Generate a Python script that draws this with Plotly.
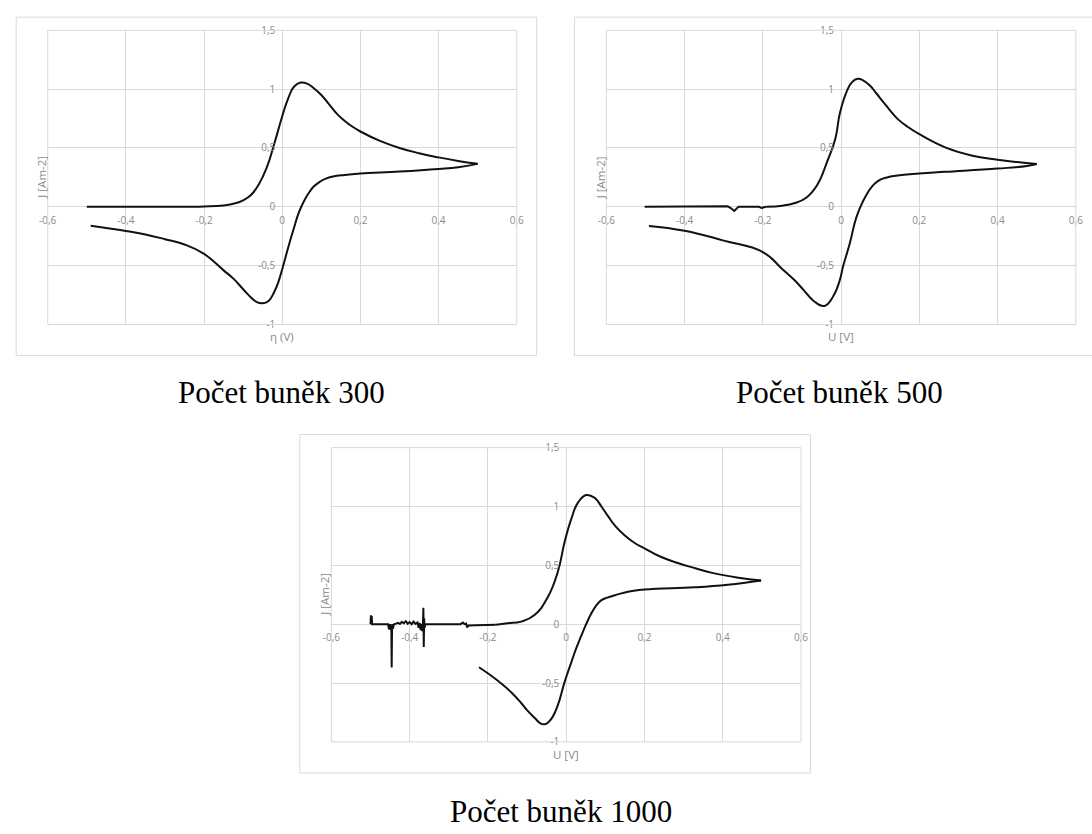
import plotly.graph_objects as go

W, H = 1092, 834

# ---------------- data ----------------
x_tick_vals = [-0.6, -0.4, -0.2, 0, 0.2, 0.4, 0.6]
x_tick_text = ["-0,6", "-0,4", "-0,2", "0", "0,2", "0,4", "0,6"]
y_tick_vals = [-1, -0.5, 0, 0.5, 1, 1.5]
y_tick_text = ["-1", "-0,5", "0", "0,5", "1", "1,5"]

captions = ["Počet buněk 300", "Počet buněk 500", "Počet buněk 1000"]
x_titles = ["η (V)", "U [V]", "U [V]"]
y_title = "J [Am-2]"

# 300 cells
c300_fwd_u = [-0.5, -0.3, -0.2, -0.15, -0.12, -0.1, -0.08, -0.06, -0.04, -0.02, 0.0, 0.015, 0.03,
              0.047, 0.065, 0.08, 0.1, 0.12, 0.14, 0.16, 0.18, 0.2, 0.25, 0.3, 0.35, 0.4, 0.45, 0.5]
c300_fwd_j = [0.0, 0.0, 0.003, 0.012, 0.03, 0.055, 0.1, 0.19, 0.33, 0.54, 0.77, 0.92, 1.02,
              1.056, 1.045, 1.01, 0.95, 0.87, 0.79, 0.73, 0.68, 0.64, 0.56, 0.5, 0.455, 0.42, 0.39,
              0.365]
c300_rev_u = [0.5, 0.45, 0.4, 0.3, 0.2, 0.16, 0.13, 0.11, 0.095, 0.08, 0.07, 0.06, 0.05, 0.04, 0.03,
              0.02, 0.01, 0.0, -0.01, -0.02, -0.035, -0.05, -0.065, -0.08, -0.1, -0.125, -0.15,
              -0.2, -0.25, -0.3, -0.35, -0.4, -0.45, -0.49]
c300_rev_j = [0.365, 0.337, 0.322, 0.3, 0.283, 0.271, 0.257, 0.237, 0.21, 0.17, 0.128, 0.075, 0.01,
              -0.07, -0.18, -0.29, -0.41, -0.53, -0.64, -0.72, -0.8, -0.82, -0.81, -0.77, -0.7,
              -0.61, -0.54, -0.4, -0.32, -0.275, -0.235, -0.205, -0.18, -0.16]

# 500 cells
c500_base_u = [-0.502, -0.3, -0.29, -0.282, -0.273, -0.266, -0.262, -0.21, -0.205, -0.202, -0.198,
               -0.19]
c500_base_j = [0.0, 0.0, 0.004, -0.01, -0.035, -0.012, 0.0, 0.0, -0.005, -0.011, -0.003, 0.0]
c500_fwd_u = [-0.19, -0.15, -0.12, -0.09, -0.061, -0.036, -0.015, -0.003, 0.014, 0.028, 0.042,
              0.055, 0.073, 0.09, 0.107, 0.125, 0.145, 0.17, 0.2, 0.266, 0.333, 0.4, 0.45, 0.5]
c500_fwd_j = [0.0, 0.01, 0.03, 0.075, 0.186, 0.38, 0.575, 0.797, 0.977, 1.06, 1.088,
              1.077, 1.033, 0.965, 0.894, 0.82, 0.745, 0.68, 0.617, 0.505, 0.436, 0.4, 0.38, 0.364]
c500_rev_u = [0.5, 0.475, 0.4, 0.266, 0.2, 0.14, 0.12, 0.107, 0.095, 0.081, 0.068, 0.056, 0.039,
              0.022, 0.005, -0.003, -0.02, -0.043, -0.07, -0.095, -0.12, -0.15, -0.2, -0.3, -0.4,
              -0.491]
c500_rev_j = [0.364, 0.347, 0.325, 0.297, 0.283, 0.264, 0.252, 0.24, 0.22, 0.18, 0.12, 0.047,
              -0.09, -0.314, -0.508, -0.62, -0.76, -0.842, -0.8, -0.71, -0.62, -0.53, -0.384,
              -0.287, -0.203, -0.162]

# 1000 cells
c1000_noise_u = [-0.5, -0.499, -0.498, -0.497, -0.496, -0.495, -0.48, -0.46, -0.455, -0.453, -0.451,
                 -0.449, -0.447, -0.446, -0.445, -0.443, -0.44, -0.435, -0.43, -0.425, -0.42, -0.415,
                 -0.41, -0.405, -0.4, -0.395, -0.39, -0.385, -0.38, -0.377, -0.374, -0.372, -0.37,
                 -0.368, -0.366, -0.365, -0.364, -0.363, -0.362, -0.36, -0.355, -0.34, -0.3, -0.27,
                 -0.264, -0.26, -0.256, -0.253, -0.25, -0.248, -0.23, -0.21, -0.19, -0.18]
c1000_noise_j = [0.0, 0.075, 0.0, 0.07, 0.0, 0.0, 0.0, 0.0, 0.0, -0.045, 0.0,
                 -0.048, 0.0, -0.368, 0.0, -0.04, 0.0, 0.005, 0.012, 0.002, 0.02, 0.008,
                 0.025, 0.004, 0.018, 0.0, 0.022, 0.003, 0.015, -0.03, 0.01, -0.05, 0.0,
                 -0.06, 0.02, 0.14, -0.193, 0.05, -0.03, 0.0, 0.0, 0.0, 0.0, 0.0,
                 0.014, 0.0, 0.005, -0.028, -0.01, -0.012, -0.01, -0.01, -0.01, -0.005]
c1000_fwd_u = [-0.18, -0.15, -0.115, -0.081, -0.047, -0.021, -0.004, 0.013, 0.03, 0.051, 0.072,
               0.09, 0.106, 0.125, 0.149, 0.175, 0.2, 0.24, 0.285, 0.33, 0.37, 0.44, 0.498]
c1000_fwd_j = [-0.005, 0.008, 0.022, 0.078, 0.23, 0.45, 0.7, 0.895, 1.033, 1.097, 1.075,
               1.0, 0.922, 0.835, 0.756, 0.69, 0.645, 0.575, 0.52, 0.475, 0.438, 0.395, 0.371]
c1000_rev_u = [0.498, 0.413, 0.328, 0.2, 0.15, 0.123, 0.105, 0.089, 0.076, 0.064, 0.051, 0.038,
               0.025, 0.013, -0.004, -0.021, -0.035, -0.047, -0.055, -0.065, -0.081, -0.1, -0.115,
               -0.14, -0.166, -0.195, -0.223]
c1000_rev_j = [0.371, 0.335, 0.313, 0.294, 0.27, 0.244, 0.226, 0.202, 0.155, 0.091, 0.0, -0.102,
               -0.21, -0.324, -0.49, -0.684, -0.79, -0.837, -0.85, -0.845, -0.795, -0.73, -0.67,
               -0.58, -0.504, -0.43, -0.366]

# ---------------- layout geometry (pixels) ----------------
plots = [  # plot area: left, right, top, bottom
    (39.3, 515.3, 22.7, 322.3),
    (606.2, 1082.7, 22.7, 322.3),
    (327.2, 803.8, 447.7, 747.3),
]
frames = [
    (7.3, 535.5, 9.3, 354.0),
    (573.9, 1103.0, 9.3, 354.0),
    (295.1, 813.3, 434.3, 779.0),
]
caption_pos = [(276.5, 392), (843, 392), (560, 818)]

GRID = "#d9d9d9"
TXT = "#8a8a8a"
TICKFONT = dict(family="Open Sans", size=10, color=TXT)
TITLEFONT = dict(family="Open Sans", size=11.5, color=TXT)


def px(x):
    return x / W


def py(y):
    return 1 - y / H


fig = go.Figure()

series = [
    [(c300_fwd_u, c300_fwd_j, "spline"), (c300_rev_u, c300_rev_j, "spline")],
    [(c500_base_u, c500_base_j, "linear"), (c500_fwd_u, c500_fwd_j, "spline"),
     (c500_rev_u, c500_rev_j, "spline")],
    [(c1000_noise_u, c1000_noise_j, "linear"), (c1000_fwd_u, c1000_fwd_j, "spline"),
     (c1000_rev_u, c1000_rev_j, "spline")],
]

layout = {}
annotations = []
shapes = []
for i, (pl, fr, ser) in enumerate(zip(plots, frames, series)):
    n = "" if i == 0 else str(i + 1)
    xa, ya = "x" + n, "y" + n
    for u, j, shp in ser:
        fig.add_trace(go.Scatter(x=u, y=j, mode="lines", xaxis=xa, yaxis=ya,
                                 line=dict(color="#111111", width=2, shape=shp, smoothing=1.3),
                                 showlegend=False, hoverinfo="skip"))
    l, r, t, b = pl
    zero_y = b - (b - t) * (0 - (-1)) / 2.5
    zero_x = (l + r) / 2
    layout["xaxis" + n] = dict(
        domain=[px(l), px(r)], range=[-0.6, 0.6], anchor="free", position=py(zero_y),
        tickvals=x_tick_vals, ticktext=x_tick_text, showgrid=True, gridcolor=GRID, gridwidth=1,
        zeroline=True, zerolinecolor=GRID, zerolinewidth=1, showline=False, ticks="",
        tickfont=TICKFONT, ticklabelstandoff=6, fixedrange=True)
    layout["yaxis" + n] = dict(
        domain=[py(b), py(t)], range=[-1, 1.5], anchor="free", position=px(zero_x),
        tickvals=y_tick_vals, ticktext=y_tick_text, showgrid=True, gridcolor=GRID, gridwidth=1,
        zeroline=True, zerolinecolor=GRID, zerolinewidth=1, showline=False, ticks="",
        tickfont=TICKFONT, ticklabelstandoff=7, fixedrange=True)
    # plot-area border
    shapes.append(dict(type="rect", xref="paper", yref="paper", x0=px(l), x1=px(r),
                       y0=py(b), y1=py(t), line=dict(color=GRID, width=1)))
    # chart frame
    shapes.append(dict(type="rect", xref="paper", yref="paper", x0=px(fr[0]), x1=px(fr[1]),
                       y0=py(fr[3]), y1=py(fr[2]), line=dict(color=GRID, width=1)))
    # axis titles
    annotations.append(dict(text=y_title, textangle=-90, x=px(l - 6.5), y=py((t + b) / 2),
                            xref="paper", yref="paper", showarrow=False, font=TITLEFONT,
                            xanchor="center", yanchor="middle"))
    annotations.append(dict(text=x_titles[i], x=px(zero_x), y=py(b + 12.5),
                            xref="paper", yref="paper", showarrow=False, font=TITLEFONT,
                            xanchor="center", yanchor="middle"))
    # caption
    cx, cy = caption_pos[i]
    annotations.append(dict(text=captions[i], x=px(cx), y=py(cy), xref="paper", yref="paper",
                            showarrow=False, xanchor="center", yanchor="middle",
                            font=dict(family="Liberation Serif", size=31, color="#000000")))

fig.update_layout(
    width=W, height=H, autosize=False, margin=dict(l=0, r=0, t=0, b=0),
    paper_bgcolor="white", plot_bgcolor="white",
    annotations=annotations, shapes=shapes, **layout)

fig.write_html("out.html")
